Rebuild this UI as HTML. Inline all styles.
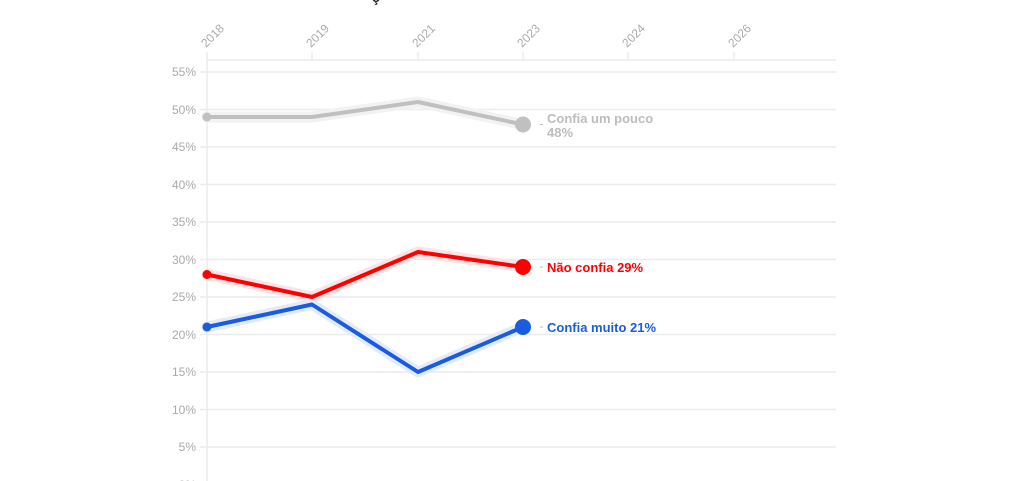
<!DOCTYPE html>
<html><head><meta charset="utf-8"><style>
html,body{margin:0;padding:0;background:#fff;width:1024px;height:481px;overflow:hidden}
svg text{font-family:"Liberation Sans",sans-serif}
</style></head><body>
<svg width="1024" height="481" viewBox="0 0 1024 481" xmlns="http://www.w3.org/2000/svg">
<text x="372" y="2" font-size="14" font-weight="bold" fill="#222">ç</text>
<g stroke="#ececec" stroke-width="1.5">
<line x1="207" y1="60" x2="836" y2="60"/>
<line x1="200" y1="72" x2="836" y2="72"/>
<line x1="200" y1="109.5" x2="836" y2="109.5"/>
<line x1="200" y1="147" x2="836" y2="147"/>
<line x1="200" y1="184.5" x2="836" y2="184.5"/>
<line x1="200" y1="222" x2="836" y2="222"/>
<line x1="200" y1="259.5" x2="836" y2="259.5"/>
<line x1="200" y1="297" x2="836" y2="297"/>
<line x1="200" y1="334.5" x2="836" y2="334.5"/>
<line x1="200" y1="372" x2="836" y2="372"/>
<line x1="200" y1="409.5" x2="836" y2="409.5"/>
<line x1="200" y1="447" x2="836" y2="447"/>
<line x1="207" y1="52" x2="207" y2="481"/>
<line x1="312" y1="52" x2="312" y2="60"/>
<line x1="418" y1="52" x2="418" y2="60"/>
<line x1="523" y1="52" x2="523" y2="60"/>
<line x1="628" y1="52" x2="628" y2="60"/>
<line x1="734" y1="52" x2="734" y2="60"/>
</g>
<g font-size="12" fill="#aaa" text-anchor="end">
<text x="196" y="76">55%</text><text x="196" y="114">50%</text><text x="196" y="151">45%</text>
<text x="196" y="189">40%</text><text x="196" y="226">35%</text><text x="196" y="264">30%</text>
<text x="196" y="301">25%</text><text x="196" y="339">20%</text><text x="196" y="376">15%</text>
<text x="196" y="414">10%</text><text x="196" y="451">5%</text><text x="196" y="489">0%</text>
</g>
<g font-size="12" fill="#aaa">
<text transform="translate(206,48) rotate(-45)">2018</text>
<text transform="translate(311,48) rotate(-45)">2019</text>
<text transform="translate(417,48) rotate(-45)">2021</text>
<text transform="translate(522,48) rotate(-45)">2023</text>
<text transform="translate(627,48) rotate(-45)">2024</text>
<text transform="translate(733,48) rotate(-45)">2026</text>
</g>
<g fill="none" stroke-linejoin="round" stroke-linecap="round">
<polyline points="207,117 312,117 418,102 523,124.5" stroke="#f2f2f2" stroke-width="11"/>
<polyline points="207,117 312,117 418,102 523,124.5" stroke="#c0c0c0" stroke-width="4"/>
<polyline points="207,274.5 312,297 418,252 523,267" stroke="#fde3e3" stroke-width="11"/>
<polyline points="207,274.5 312,297 418,252 523,267" stroke="#ff0000" stroke-width="4"/>
<polyline points="207,327 312,304.5 418,372 523,327" stroke="#e3ebfb" stroke-width="11"/>
<polyline points="207,327 312,304.5 418,372 523,327" stroke="#1a5ce0" stroke-width="4"/>
</g>
<circle cx="207" cy="117" r="4.5" fill="#c0c0c0"/><circle cx="523" cy="124.5" r="8" fill="#c0c0c0"/>
<circle cx="207" cy="274.5" r="4.5" fill="#ff0000"/><circle cx="523" cy="267" r="8" fill="#ff0000"/>
<circle cx="207" cy="327" r="4.5" fill="#1a5ce0"/><circle cx="523" cy="327" r="8" fill="#1a5ce0"/>
<g stroke="#bbb" stroke-width="1"><line x1="540" y1="124.5" x2="543" y2="124.5"/><line x1="540" y1="267" x2="543" y2="267"/><line x1="540" y1="327" x2="543" y2="327"/></g>
<g font-size="13" font-weight="bold">
<text x="547" y="123" fill="#bdbdbd">Confia um pouco</text>
<text x="547" y="137" fill="#bdbdbd">48%</text>
<text x="547" y="272" fill="#ff0000">Não confia 29%</text>
<text x="547" y="332" fill="#1a5ce0">Confia muito 21%</text>
</g>
</svg>
</body></html>
